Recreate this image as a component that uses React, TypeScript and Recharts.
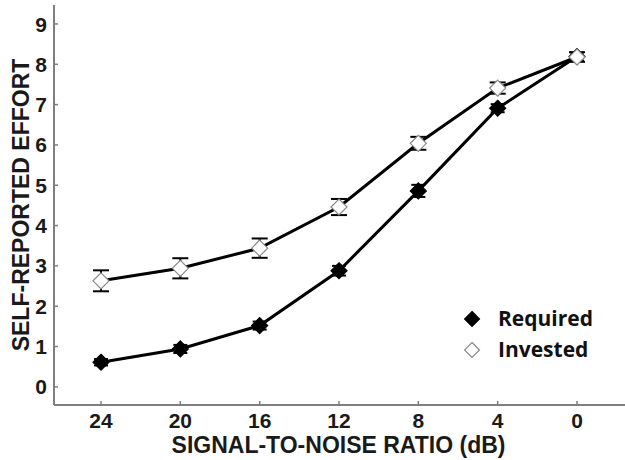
import { LineChart, Line, XAxis, YAxis, ErrorBar, Legend, Label } from "recharts";

const snr = [24, 20, 16, 12, 8, 4, 0];
const required = [0.61, 0.94, 1.52, 2.88, 4.86, 6.91, 8.19];
const requiredErr = [0.08, 0.1, 0.1, 0.12, 0.15, 0.1, 0.1];
const invested = [2.63, 2.94, 3.44, 4.46, 6.04, 7.41, 8.18];
const investedErr = [0.26, 0.25, 0.24, 0.2, 0.16, 0.14, 0.12];
const yTicks = [0, 1, 2, 3, 4, 5, 6, 7, 8, 9];

const data = snr.map((s, i) => ({
  snr: s,
  required: required[i],
  requiredErr: requiredErr[i],
  invested: invested[i],
  investedErr: investedErr[i],
}));

const axisFont = "'Liberation Sans', Arial, sans-serif";
const axisGray = "#7f7f7f";

const Diamond = ({ cx, cy, fill, stroke, r = 8 }: any) => (
  <path
    d={`M${cx},${cy - r} L${cx + r},${cy} L${cx},${cy + r} L${cx - r},${cy} Z`}
    fill={fill}
    stroke={stroke}
    strokeWidth={1.2}
  />
);

const YTick = (props: any) => {
  const { x, y, payload } = props;
  return (
    <g>
      <line x1={x} x2={x + 4} y1={y} y2={y} stroke={axisGray} strokeWidth={1.5} />
      <text
        x={x - 7}
        y={y}
        dy="0.36em"
        textAnchor="end"
        fontFamily={axisFont}
        fontWeight="bold"
        fontSize={21}
        fill="#1a1a1a"
      >
        {payload.value}
      </text>
    </g>
  );
};

const XTick = (props: any) => {
  const { x, y, payload } = props;
  return (
    <g>
      <line x1={x} x2={x} y1={y} y2={y - 4} stroke={axisGray} strokeWidth={1.5} />
      <text
        x={x}
        y={y + 23}
        textAnchor="middle"
        fontFamily={axisFont}
        fontWeight="bold"
        fontSize={21}
        fill="#1a1a1a"
      >
        {payload.value}
      </text>
    </g>
  );
};

const LegendBox = () => (
  <div style={{ fontFamily: "'Open Sans', sans-serif", fontWeight: 700, fontSize: 21, color: "#111", lineHeight: "31px" }}>
    {[
      { name: "Required", fill: "#000", stroke: "#000" },
      { name: "Invested", fill: "#fff", stroke: "#888" },
    ].map((it) => (
      <div key={it.name} style={{ display: "flex", alignItems: "center", height: 31 }}>
        <svg width={34} height={20}>
          <Diamond cx={8} cy={10} r={7.5} fill={it.fill} stroke={it.stroke} />
        </svg>
        <span>{it.name}</span>
      </div>
    ))}
  </div>
);

export default function App() {
  return (
    <div>
      <style>{`body{margin:0}`}</style>
      <LineChart
        width={625}
        height={460}
        data={data}
        margin={{ top: 5, right: 0, left: 0, bottom: 0 }}
      >
        <XAxis
          dataKey="snr"
          type="number"
          domain={[-2.42, 26.37]}
          allowDataOverflow
          reversed
          ticks={snr}
          height={55}
          tickSize={0}
          tickMargin={0}
          tickLine={false}
          tick={<XTick />}
          axisLine={{ stroke: axisGray, strokeWidth: 2 }}
        >
          <Label
            content={(p: any) => {
              const vb = p.viewBox;
              return (
                <text
                  x={vb.x + vb.width / 2 - 1}
                  y={vb.y + 48}
                  textAnchor="middle"
                  fontFamily={axisFont}
                  fontWeight="bold"
                  fontSize={23}
                  fill="#1a1a1a"
                >
                  SIGNAL-TO-NOISE RATIO (dB)
                </text>
              );
            }}
          />
        </XAxis>
        <YAxis
          type="number"
          domain={[-0.45, 9.47]}
          allowDataOverflow
          ticks={yTicks}
          width={54}
          tickSize={0}
          tickMargin={0}
          tickLine={false}
          tick={<YTick />}
          axisLine={{ stroke: axisGray, strokeWidth: 2 }}
        >
          <Label
            content={(p: any) => {
              const vb = p.viewBox;
              const cx = 21;
              const cy = vb.y + vb.height / 2;
              return (
                <text
                  x={cx}
                  y={cy}
                  dy="0.36em"
                  textAnchor="middle"
                  transform={`rotate(-90 ${cx} ${cy})`}
                  fontFamily={axisFont}
                  fontWeight="bold"
                  fontSize={23}
                  fill="#1a1a1a"
                >
                  SELF-REPORTED EFFORT
                </text>
              );
            }}
          />
        </YAxis>
        <Legend
          layout="horizontal"
          verticalAlign="middle"
          align="center"
          content={<LegendBox />}
          wrapperStyle={{ position: "absolute", left: 464, top: 303, width: 160 }}
        />
        <Line
          dataKey="required"
          stroke="#000"
          strokeWidth={3}
          isAnimationActive={false}
          dot={(p: any) => <Diamond key={`r${p.index}`} cx={p.cx} cy={p.cy} fill="#000" stroke="#000" />}
        >
          <ErrorBar dataKey="requiredErr" direction="y" width={7} strokeWidth={2} stroke="#000" />
        </Line>
        <Line
          dataKey="invested"
          stroke="#000"
          strokeWidth={3}
          isAnimationActive={false}
          dot={(p: any) => <Diamond key={`i${p.index}`} cx={p.cx} cy={p.cy} fill="#fff" stroke="#888" />}
        >
          <ErrorBar dataKey="investedErr" direction="y" width={8} strokeWidth={2} stroke="#000" />
        </Line>
      </LineChart>
    </div>
  );
}
